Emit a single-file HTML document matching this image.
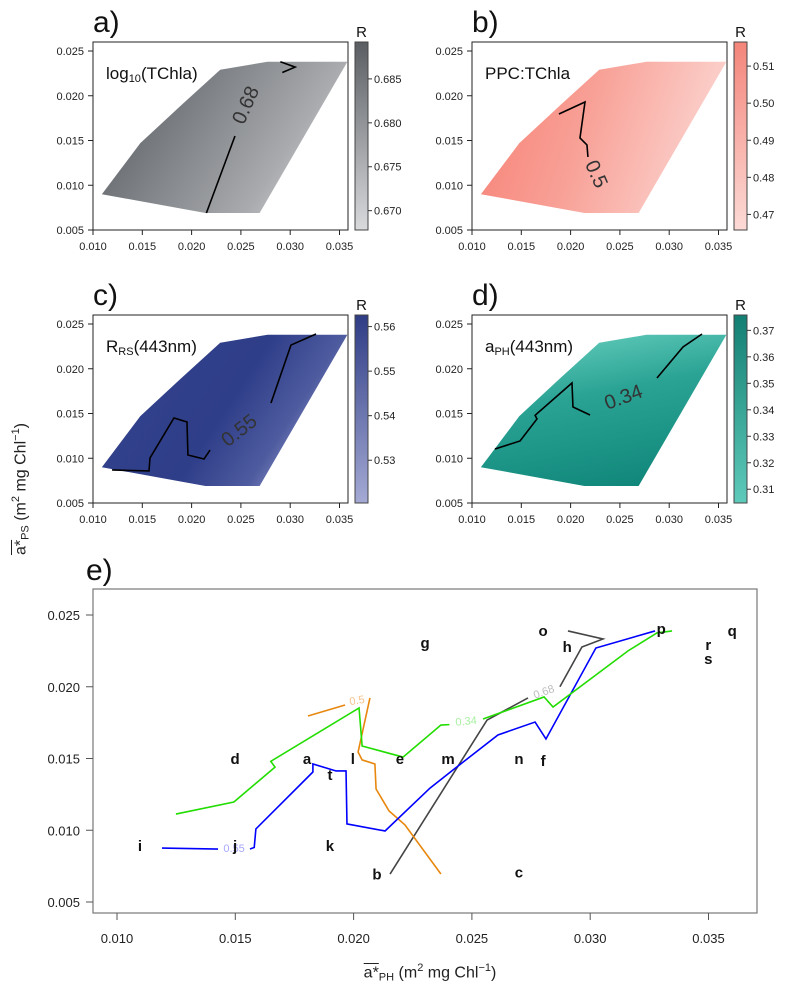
<!DOCTYPE html>
<html><head><meta charset="utf-8">
<style>
body{margin:0;background:#fff;}
svg{display:block;font-family:"Liberation Sans",sans-serif;}
</style></head>
<body>
<svg id="chart" width="800" height="1000" viewBox="0 0 800 1000" xmlns="http://www.w3.org/2000/svg">
<defs>
<linearGradient id="gA" x1="0" y1="0.3" x2="1" y2="0.7"><stop offset="0" stop-color="#5c6065"/><stop offset="0.45" stop-color="#8a8d91"/><stop offset="0.75" stop-color="#a9abae"/><stop offset="1" stop-color="#d6d7d9"/></linearGradient>
<linearGradient id="gB" x1="0" y1="0.4" x2="1" y2="0.6"><stop offset="0" stop-color="#f7857a"/><stop offset="0.4" stop-color="#f8a096"/><stop offset="1" stop-color="#fcd9d5"/></linearGradient>
<linearGradient id="gC" x1="0" y1="0.3" x2="1" y2="0.7"><stop offset="0" stop-color="#33418b"/><stop offset="0.5" stop-color="#2f3e89"/><stop offset="0.75" stop-color="#4e5b9f"/><stop offset="1" stop-color="#b2b7dc"/></linearGradient>
<linearGradient id="gD" x1="0.3" y1="0" x2="0.6" y2="1"><stop offset="0" stop-color="#62cbbb"/><stop offset="0.4" stop-color="#2aa394"/><stop offset="1" stop-color="#10877a"/></linearGradient>
<linearGradient id="cbA" x1="0" y1="0" x2="0" y2="1"><stop offset="0" stop-color="#5a5e63"/><stop offset="1" stop-color="#d9dadc"/></linearGradient>
<linearGradient id="cbB" x1="0" y1="0" x2="0" y2="1"><stop offset="0" stop-color="#f4857a"/><stop offset="1" stop-color="#fcdad6"/></linearGradient>
<linearGradient id="cbC" x1="0" y1="0" x2="0" y2="1"><stop offset="0" stop-color="#2e3c85"/><stop offset="1" stop-color="#a4aad4"/></linearGradient>
<linearGradient id="cbD" x1="0" y1="0" x2="0" y2="1"><stop offset="0" stop-color="#137f72"/><stop offset="1" stop-color="#5ecabb"/></linearGradient>
</defs>
</svg>
<script>
// ---------- data ----------
const polyX = [0.0109,0.0214,0.0269,0.0358,0.0277,0.0229,0.0190,0.0148];
const polyY = [0.0090,0.0069,0.0069,0.0238,0.0238,0.0229,0.0190,0.0147];
const smallTicks = [0.010,0.015,0.020,0.025,0.030,0.035];
const smallYTicks = [0.005,0.010,0.015,0.020,0.025];
const tickLabelsX = ["0.010","0.015","0.020","0.025","0.030","0.035"];
const tickLabelsY = ["0.005","0.010","0.015","0.020","0.025"];
// panel contours
const contAX = [[0.0215,0.0244],[0.0290,0.0305,0.0292]];
const contAY = [[0.0069,0.0155],[0.0238,0.0232,0.0226]];
const contBX = [[0.01882,0.02146,0.02095,0.02166,0.02176]];
const contBY = [[0.01796,0.0193,0.01528,0.0145,0.01316]];
const contCX = [[0.01193,0.01568,0.01578,0.01821,0.01953,0.01963,0.02126,0.02187],[0.02805,0.03008,0.03262]];
const contCY = [[0.00869,0.00858,0.01003,0.01450,0.01405,0.01036,0.00992,0.01092],[0.01617,0.02265,0.02388]];
const contDX = [[0.01233,0.01487,0.01659,0.01640,0.02014,0.02024,0.02197],[0.02876,0.0314,0.03333]];
const contDY = [[0.01103,0.01193,0.01439,0.01480,0.01841,0.01573,0.01483],[0.01897,0.02243,0.02388]];
// colorbars
const cbAVals = [0.685,0.680,0.675,0.670]; const cbALabels=["0.685","0.680","0.675","0.670"];
const cbBVals = [0.51,0.50,0.49,0.48,0.47]; const cbBLabels=["0.51","0.50","0.49","0.48","0.47"];
const cbCVals = [0.56,0.55,0.54,0.53]; const cbCLabels=["0.56","0.55","0.54","0.53"];
const cbDVals = [0.37,0.36,0.35,0.34,0.33,0.32,0.31]; const cbDLabels=["0.37","0.36","0.35","0.34","0.33","0.32","0.31"];
const cbARange=[0.6678,0.6892], cbBRange=[0.4658,0.5165], cbCRange=[0.5204,0.5626], cbDRange=[0.3048,0.3758];
// panel e
const letters = ["i","j","k","a","t","d","l","e","g","m","n","f","b","c","o","h","p","q","r","s"];
const letterX = [0.01097,0.01499,0.01900,0.01803,0.01900,0.01499,0.01997,0.02196,0.02302,0.02399,0.02699,0.02801,0.02099,0.02699,0.02801,0.02903,0.03300,0.03600,0.03499,0.03499];
const letterY = [0.00884,0.00884,0.00884,0.01490,0.01379,0.01490,0.01490,0.01490,0.02298,0.01490,0.01490,0.01476,0.00684,0.00698,0.02382,0.02271,0.02396,0.02382,0.02285,0.02187];
const grayX = [[0.02154,0.02564,0.02737],[0.02872,0.02965,0.03054,0.02906]];
const grayY = [[0.00695,0.01768,0.01922],[0.0200,0.02277,0.02333,0.02389]];
const orangeX = [[0.01807,0.01964],[0.02069,0.02019,0.02036,0.0209,0.02095,0.0215,0.02217,0.02369]];
const orangeY = [[0.01796,0.01873],[0.01922,0.01545,0.0149,0.01462,0.01287,0.01134,0.01037,0.00695]];
const blueX = [[0.0119,0.01427],[0.01562,0.0158,0.01587,0.01828,0.01828,0.01926,0.01968,0.01972,0.02133,0.02323,0.0242,0.0261,0.02767,0.02813,0.03024,0.03274]];
const blueY = [[0.00876,0.00869],[0.00869,0.0088,0.01009,0.01406,0.01462,0.01413,0.01413,0.01044,0.00995,0.01294,0.0142,0.01664,0.01754,0.01636,0.0227,0.02389]];
const greenX = [[0.01249,0.01494,0.01668,0.0165,0.02023,0.02036,0.02209,0.02369,0.02405],[0.02547,0.02805,0.02843,0.0316,0.03282,0.03346]];
const greenY = [[0.01113,0.01197,0.0144,0.0148,0.01852,0.01587,0.0151,0.01733,0.01736],[0.01775,0.01929,0.01859,0.0225,0.02375,0.02389]];
const eTicksX=[0.010,0.015,0.020,0.025,0.030,0.035];
const eTicksY=[0.005,0.010,0.015,0.020,0.025];

// ---------- helpers ----------
const svg=document.getElementById('chart');
const NS='http://www.w3.org/2000/svg';
function mk(tag,attrs,parent){const e=document.createElementNS(NS,tag);for(const k in attrs)e.setAttribute(k,attrs[k]);(parent||svg).appendChild(e);return e;}

const panels=[
 {id:'a',dx:0,dy:0,fill:'url(#gA)',cb:'url(#cbA)',vals:cbAVals,labs:cbALabels,rng:cbARange,cx:contAX,cy:contAY,title:'log<sub>10</sub>(TChla)',
  lab:'0.68',lx:0.0256,ly:0.0189,rot:-66},
 {id:'b',dx:379,dy:0,fill:'url(#gB)',cb:'url(#cbB)',vals:cbBVals,labs:cbBLabels,rng:cbBRange,cx:contBX,cy:contBY,title:'PPC:TChla',
  lab:'0.5',lx:0.0225,ly:0.0112,rot:66},
 {id:'c',dx:0,dy:273,fill:'url(#gC)',cb:'url(#cbC)',vals:cbCVals,labs:cbCLabels,rng:cbCRange,cx:contCX,cy:contCY,title:'R<sub>RS</sub>(443nm)',
  lab:'0.55',lx:0.0249,ly:0.0130,rot:-38},
 {id:'d',dx:379,dy:273,fill:'url(#gD)',cb:'url(#cbD)',vals:cbDVals,labs:cbDLabels,rng:cbDRange,cx:contDX,cy:contDY,title:'a<sub>PH</sub>(443nm)',
  lab:'0.34',lx:0.0254,ly:0.0167,rot:-20}
];

panels.forEach(p=>{
  const X=v=>93+p.dx+(v-0.01)*9860;
  const Y=v=>230+p.dy-(v-0.005)*8950;
  const g=mk('g',{});
  
  
  // heatmap polygon
  const poly=mk('polygon',{points:polyX.map((x,i)=>X(x)+','+Y(polyY[i])).join(' '),fill:p.fill},g);
  
  
  // contours
  p.cx.forEach((xs,k)=>{
    const pl=mk('polyline',{points:xs.map((x,i)=>X(x)+','+Y(p.cy[k][i])).join(' '),fill:'none',stroke:'#000','stroke-width':1.6},g);
    
    
  });
  const cl=mk('text',{x:X(p.lx),y:Y(p.ly),'font-size':20,fill:'#333','text-anchor':'middle','dominant-baseline':'middle','font-weight':'300',transform:`rotate(${p.rot} ${X(p.lx)} ${Y(p.ly)})`},g);
  cl.textContent=p.lab;
  
  
  // box
  const bx=mk('rect',{x:93+p.dx,y:42+p.dy,width:255,height:188,fill:'none',stroke:'#222','stroke-width':1},g);
  
  
  smallTicks.forEach((t,i)=>{
    mk('line',{x1:X(t),x2:X(t),y1:230+p.dy,y2:235+p.dy,stroke:'#222'},g);
    const tx=mk('text',{x:X(t),y:250+p.dy,'font-size':11,'text-anchor':'middle',fill:'#222'},g);
    tx.textContent=tickLabelsX[i];
    
    
  });
  smallYTicks.forEach((t,i)=>{
    mk('line',{x1:88+p.dx,x2:93+p.dx,y1:Y(t),y2:Y(t),stroke:'#222'},g);
    const ty=mk('text',{x:84+p.dx,y:Y(t)+4,'font-size':11,'text-anchor':'end',fill:'#222'},g);
    ty.textContent=tickLabelsY[i];
    
    
  });
  // panel letter and title
  const pl=mk('text',{x:93+p.dx,y:32+p.dy,'font-size':30,fill:'#111'},g);
  pl.textContent=p.id+')';
  
  
  const fo=mk('foreignObject',{x:106+p.dx,y:64+p.dy,width:200,height:30},g);
  fo.innerHTML=`<div xmlns="http://www.w3.org/1999/xhtml" style="font-family:'Liberation Sans',sans-serif;font-size:17px;color:#111;line-height:20px;">${p.title.replace(/<sub>/g,'<sub style="font-size:11px;vertical-align:-3px">')}</div>`;
  
  
  // colorbar
  const cbx=355+p.dx;
  const cb=mk('rect',{x:cbx,y:42+p.dy,width:13,height:188,fill:p.cb,stroke:'#444','stroke-width':1},g);
  
  
  const CY=v=>42+p.dy+(p.rng[1]-v)/(p.rng[1]-p.rng[0])*188;
  p.vals.forEach((v,i)=>{
    mk('line',{x1:cbx+13,x2:cbx+17,y1:CY(v),y2:CY(v),stroke:'#333'},g);
    const t=mk('text',{x:cbx+19,y:CY(v)+4,'font-size':11,fill:'#222'},g);
    t.textContent=p.labs[i];
    
    
  });
  const r=mk('text',{x:cbx+6.5,y:37+p.dy,'font-size':15,'text-anchor':'middle',fill:'#111'},g);
  r.textContent='R';
  
  
});

// ---------- panel e ----------
const EX=v=>117+(v-0.01)*23660;
const EY=v=>902-(v-0.005)*14350;
const ge=mk('g',{});


const eb=mk('rect',{x:93,y:589,width:664,height:324,fill:'none',stroke:'#777','stroke-width':1.2},ge);


const el=mk('text',{x:86,y:580,'font-size':30,fill:'#111'},ge);
el.textContent='e)';


eTicksX.forEach((t,i)=>{
  mk('line',{x1:EX(t),x2:EX(t),y1:913,y2:920,stroke:'#555'},ge);
  const tx=mk('text',{x:EX(t),y:943,'font-size':13,'text-anchor':'middle',fill:'#222'},ge);
  tx.textContent=tickLabelsX[i];
  
  
});
eTicksY.forEach((t,i)=>{
  mk('line',{x1:86,x2:93,y1:EY(t),y2:EY(t),stroke:'#555'},ge);
  const ty=mk('text',{x:80,y:EY(t)+5,'font-size':13,'text-anchor':'end',fill:'#222'},ge);
  ty.textContent=tickLabelsY[i];
  
  
});
function lines(xs,ys,color,name){
  xs.forEach((seg,k)=>{
    const pl=mk('polyline',{points:seg.map((x,i)=>EX(x)+','+EY(ys[k][i])).join(' '),fill:'none',stroke:color,'stroke-width':1.6},ge);
    
    
  });
}
lines(grayX,grayY,'#444','contour-0.68');
lines(orangeX,orangeY,'#e8870e','contour-0.5');
lines(blueX,blueY,'#0000ff','contour-0.55');
lines(greenX,greenY,'#22dd00','contour-0.34');
function clab(txt,x,y,rot,color,name){
  const t=mk('text',{x:EX(x),y:EY(y),'font-size':11,fill:color,'text-anchor':'middle','dominant-baseline':'middle',transform:`rotate(${rot} ${EX(x)} ${EY(y)})`},ge);
  t.textContent=txt;
  
  
}
clab('0.5',0.02015,0.0190,-10,'#f6c48e','contour-label-0.5');
clab('0.55',0.01495,0.0087,0,'#a8a8ff','contour-label-0.55');
clab('0.34',0.02476,0.01755,-5,'#a8f0a0','contour-label-0.34');
clab('0.68',0.02805,0.0196,-20,'#bbbbbb','contour-label-0.68');
letters.forEach((L,i)=>{
  const t=mk('text',{x:EX(letterX[i]),y:EY(letterY[i]),'font-size':15,'font-weight':'bold',fill:'#111','text-anchor':'middle','dominant-baseline':'middle'},ge);
  t.textContent=L;
  
  
});
// axis titles
const xt=mk('foreignObject',{x:230,y:957,width:400,height:30});
xt.innerHTML=`<div xmlns="http://www.w3.org/1999/xhtml" style="font-family:'Liberation Sans',sans-serif;font-size:16px;color:#222;text-align:center;line-height:22px;"><span style="text-decoration:overline">a*</span><sub style="font-size:11px;vertical-align:-3px">PH</sub> (m<sup style="font-size:11px">2</sup> mg Chl<sup style="font-size:11px">−1</sup>)</div>`;


const yt=mk('foreignObject',{x:-182,y:476,width:400,height:26,transform:'rotate(-90 18 489)'});
yt.innerHTML=`<div xmlns="http://www.w3.org/1999/xhtml" style="font-family:'Liberation Sans',sans-serif;font-size:16px;color:#222;text-align:center;line-height:22px;"><span style="text-decoration:overline">a*</span><sub style="font-size:11px;vertical-align:-3px">PS</sub> (m<sup style="font-size:11px">2</sup> mg Chl<sup style="font-size:11px">−1</sup>)</div>`;


</script>
</body></html>
